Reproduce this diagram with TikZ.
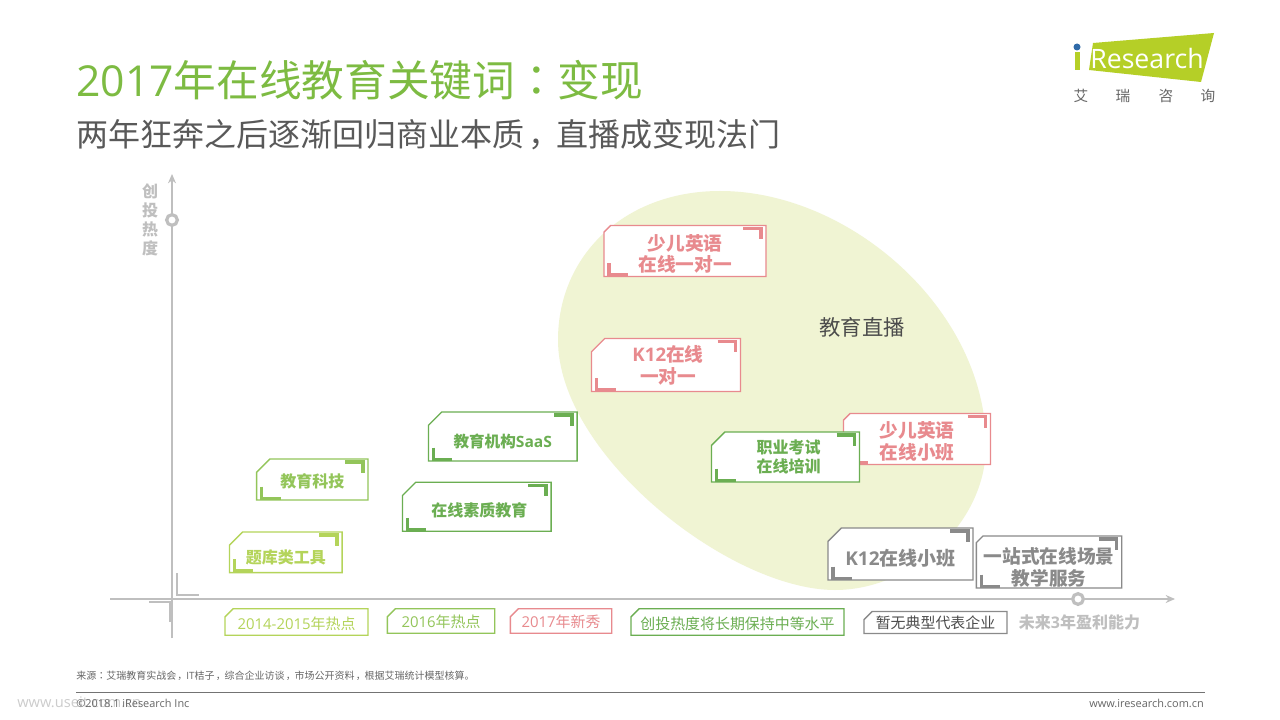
\documentclass[tikz,border=0pt]{standalone}
\usepackage{fontspec}
\setmainfont{Noto Sans CJK SC}
\newfontfamily\latinfont{Open Sans}
\newfontfamily\puncfont{Noto Sans CJK TC}
\newcommand{\cncolon}{{\puncfont ^^^^ff1a}}
\newcommand{\cncomma}{\kern0.12em ^^^^ff0c\kern-0.12em}
\newcommand{\lowtext}[2]{\raisebox{-#1}[0pt][0pt]{\parbox[b]{98.5pt}{\centering #2}}}
\usetikzlibrary{shapes.geometric, shapes.misc, arrows.meta}
\definecolor{titlegreen}{HTML}{7DBB42}
\definecolor{pinkc}{HTML}{E88A8E}
\definecolor{greenc}{HTML}{6BAE52}
\definecolor{limec}{HTML}{B4D45A}
\definecolor{midc}{HTML}{93C55A}
\definecolor{axisc}{HTML}{BFBFBF}
\definecolor{grayc}{HTML}{8A8A8A}
\definecolor{blobc}{HTML}{F0F4D3}
\definecolor{logoc}{HTML}{B5CF27}
\definecolor{logodot}{HTML}{2F6AA8}
\tikzstyle{tagbox} = [chamfered rectangle, chamfered rectangle corners=north west, chamfered rectangle sep=5pt, draw=#1, text=#1, fill=white, line width=1pt, inner sep=0pt, outer sep=0pt, align=center, font=\bfseries\fontsize{14}{16.5}\selectfont]
\tikzstyle{keybox} = [tagbox=#1, chamfered rectangle sep=3pt, font=\fontsize{11.2}{13}\selectfont]
\tikzstyle{lower} = [execute at begin node={\rule{0pt}{\dimexpr0.88em+#1pt\relax}}]
\tikzstyle{bracket} = [line width=2.4pt, line cap=butt, line join=miter]
\tikzstyle{axisbracket} = [axisc, line width=1.8pt, line cap=butt, line join=miter]
\tikzstyle{axisline} = [axisc, line width=0.9pt]
\tikzstyle{axismark} = [circle, draw=axisc, fill=white, line width=2.4pt, minimum size=8pt, inner sep=0pt]
\tikzstyle{logochar} = [text=black!60, font=\fontsize{11}{13}\selectfont, inner sep=0pt]
\newcommand{\tagmarks}[2]{
\draw [bracket, #2] ([shift={(-23,3)}]#1.north east) -- ++(18,0) -- ++(0,11);
\draw [bracket, #2] ([shift={(5,-13.5)}]#1.south west) -- ++(0,12) -- ++(19,0);
}

\begin{document}
\begin{tikzpicture}[x=0.75pt, y=-0.75pt]
\useasboundingbox [fill=white] (0,0) rectangle (1280,720);

\node (title) [anchor=west, inner sep=0pt, text=titlegreen, font=\fontsize{32}{38}\selectfont] at (76,80) {{\latinfont 2017}年在线教育关键词\cncolon 变现};
\node (subtitle) [anchor=west, inner sep=0pt, text=black!65, font=\fontsize{24}{30}\selectfont] at (76,135) {两年狂奔之后逐渐回归商业本质\cncomma 直播成变现法门};

\fill [logoc] (1093,43) -- (1214,33) -- (1201,82) -- (1089,70) -- cycle;
\fill [logoc] (1074.5,52) rectangle (1080,70.5);
\fill [logodot] (1077,47) circle (3.5);
\node (logotext) [text=white, font=\latinfont\fontsize{20}{24}\selectfont, inner sep=0pt] at (1147,59) {Research};
\node (logo1) [logochar] at (1081,96) {艾};
\node (logo2) [logochar] at (1123,96) {瑞};
\node (logo3) [logochar] at (1166,96) {咨};
\node (logo4) [logochar] at (1208,96) {询};

\fill [blobc] (720,191) .. controls (850,191) and (986,310) .. (986,445) .. controls (986,525) and (910,590) .. (835,590) .. controls (730,590) and (558,455) .. (558,340) .. controls (558,255) and (625,191) .. (720,191) -- cycle;
\node (livelabel) [text=black!70, font=\fontsize{16}{19}\selectfont] at (862,327) {教育直播};

\coordinate (yfoot) at (172,638);
\coordinate (ytip) at (172,174);
\coordinate (xfoot) at (110,599);
\coordinate (xtip) at (1175,599);
\draw [axisline, -{Stealth[length=7pt,width=6pt]}] (yfoot) -- (ytip);
\draw [axisline, -{Stealth[length=7pt,width=6pt]}] (xfoot) -- (xtip);
\node (ymark) [axismark] at (172,220) {};
\node (xmark) [axismark] at (1078,599) {};
\draw [axisbracket] (177,573) -- (177,595) -- (199,595);
\draw [axisbracket] (149,602) -- (170,602) -- (170,622);
\node (ylabel) [text=axisc, align=center, font=\bfseries\fontsize{12}{14.2}\selectfont] at (150,220) {创\\投\\热\\度};

\node (oneA) [tagbox=pinkc, minimum width=121.5pt, minimum height=38.25pt] at (685,251) {\lowtext{15.75pt}{少儿英语\\在线一对一}};
\tagmarks{oneA}{pinkc}
\node (oneB) [tagbox=pinkc, minimum width=111.75pt, minimum height=38.25pt] at (666,365) {\hspace*{3pt}{\latinfont K12}在线\\\hspace*{3pt}一对一};
\tagmarks{oneB}{pinkc}
\node (smallA) [tagbox=pinkc, minimum width=110.25pt, minimum height=38.25pt] at (917,439) {\lowtext{15pt}{少儿英语\\在线小班}};
\tagmarks{smallA}{pinkc}
\node (exam) [tagbox=greenc, minimum width=111pt, minimum height=37.5pt, font=\bfseries\fontsize{12}{14.25}\selectfont] at (785.5,457) {\hspace*{4.5pt}职业考试\\\hspace*{4.5pt}在线培训};
\tagmarks{exam}{greenc}
\node (smallB) [tagbox=grayc, lower=6, minimum width=108.75pt, minimum height=39pt, font=\bfseries\fontsize{14.25}{17}\selectfont] at (900.5,554) {{\latinfont K12}在线小班};
\tagmarks{smallB}{grayc}
\node (scene) [tagbox=grayc, minimum width=109pt, minimum height=39pt] at (1049,562) {\lowtext{17.25pt}{一站式在线场景\\教学服务}};
\tagmarks{scene}{grayc}
\node (saas) [tagbox=greenc, lower=7.5, minimum width=111.5pt, minimum height=36.75pt, font=\bfseries\fontsize{11.7}{15}\selectfont] at (502.75,436.5) {教育机构{\latinfont SaaS}};
\tagmarks{saas}{greenc}
\node (quality) [tagbox=greenc, lower=6, minimum width=111.5pt, minimum height=36.75pt, font=\bfseries\fontsize{12}{15}\selectfont] at (476.75,506.75) {\hspace*{3.75pt}在线素质教育};
\tagmarks{quality}{greenc}
\node (tech) [tagbox=midc, lower=3, minimum width=83.5pt, minimum height=30.75pt, font=\bfseries\fontsize{12}{15}\selectfont] at (312.25,479.5) {教育科技};
\tagmarks{tech}{midc}
\node (bank) [tagbox=limec, lower=7.5, minimum width=84.5pt, minimum height=30.5pt, font=\bfseries\fontsize{12}{15}\selectfont] at (285.75,552.25) {题库类工具};
\tagmarks{bank}{limec}

\node (keyA) [keybox=limec, lower=3, minimum width=107.25pt, minimum height=15.75pt] at (296.5,622) {{\latinfont 2014-2015}年热点};
\node (keyB) [keybox=midc, lower=1.5, minimum width=80.5pt, minimum height=15pt] at (441,621) {{\latinfont 2016}年热点};
\node (keyC) [keybox=pinkc, lower=1.5, minimum width=76pt, minimum height=15pt] at (561,621) {{\latinfont 2017}年新秀};
\node (keyD) [keybox=greenc, lower=3, minimum width=159.75pt, minimum height=16.5pt] at (737.5,622) {创投热度将长期保持中等水平};
\node (keyE) [keybox=grayc, minimum width=107.25pt, minimum height=15.75pt, text=black!70] at (935.5,622.5) {暂无典型代表企业};
\node (xlabel) [text=axisc, font=\bfseries\fontsize{12}{14}\selectfont] at (1079.5,622) {未来{\latinfont 3}年盈利能力};

\node (source) [anchor=west, text=black!60, font=\fontsize{7.5}{9}\selectfont, inner sep=0pt] at (76,676) {来源\cncolon 艾瑞教育实战会\cncomma {\latinfont IT}桔子\cncomma 综合企业访谈\cncomma 市场公开资料\cncomma 根据艾瑞统计模型核算。};
\coordinate (ruleA) at (76,692);
\coordinate (ruleB) at (1205,692);
\draw [black!55, line width=0.7pt] (ruleA) -- (ruleB);
\node (mark) [anchor=west, text=black!20, font=\latinfont\fontsize{11}{13}\selectfont, inner sep=0pt] at (17,702) {www.useit.com.cn};
\node (copy) [anchor=west, text=black!60, font=\latinfont\fontsize{8.2}{10}\selectfont, inner sep=0pt] at (76,703) {©2018.1 iResearch Inc};
\node (web) [anchor=east, text=black!60, font=\latinfont\fontsize{8.2}{10}\selectfont, inner sep=0pt] at (1204,703) {www.iresearch.com.cn};
\end{tikzpicture}
\end{document}
